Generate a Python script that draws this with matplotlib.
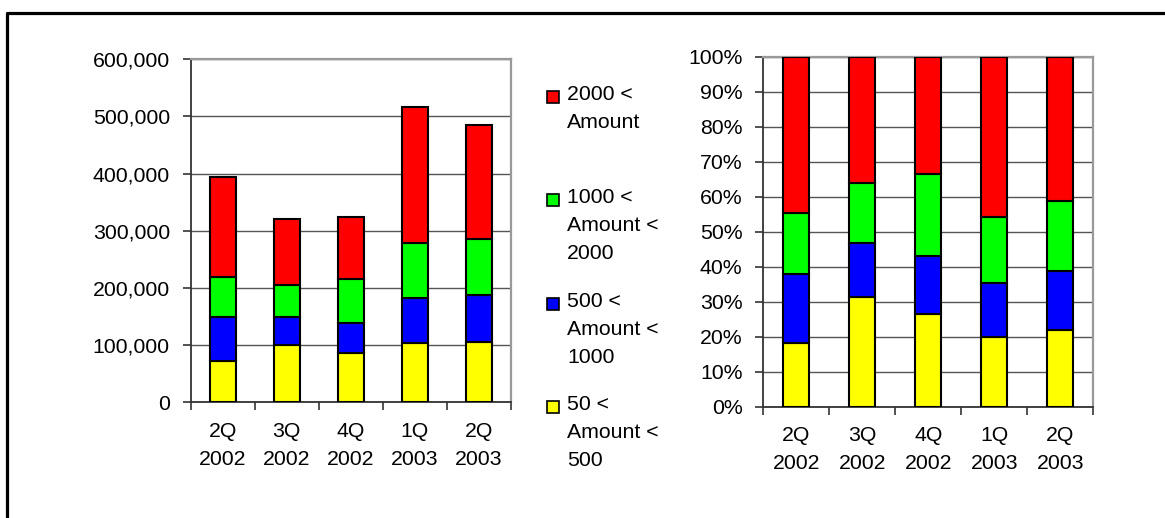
import matplotlib
matplotlib.use("Agg")
import matplotlib.pyplot as plt
import numpy as np
from matplotlib.lines import Line2D
from matplotlib.patches import Rectangle
from matplotlib.ticker import FuncFormatter, MultipleLocator, PercentFormatter

plt.rcParams["font.family"] = ["Liberation Sans", "DejaVu Sans"]

# quarterly amounts per size bracket
quarters = ["2Q\n2002", "3Q\n2002", "4Q\n2002", "1Q\n2003", "2Q\n2003"]
bracket_labels = ["50 <\nAmount <\n500", "500 <\nAmount <\n1000",
                  "1000 <\nAmount <\n2000", "2000 <\nAmount"]
amt_50_500 = [72300, 100300, 86300, 103200, 106100]
amt_500_1000 = [77600, 49600, 53100, 78700, 81700]
amt_1000_2000 = [68800, 54800, 76300, 97400, 97300]
amt_2000_up = [176100, 116000, 109100, 237300, 200000]
colors = ["#ffff00", "#0000ff", "#00ff00", "#ff0000"]

series = np.array([amt_50_500, amt_500_1000, amt_1000_2000, amt_2000_up], dtype=float)
shares = series / series.sum(axis=0)

W, H = 1165, 518
fig = plt.figure(figsize=(W / 100, H / 100), dpi=100)
fig.patch.set_facecolor("white")

FS = 15.3


def style_axes(ax):
    x = np.arange(len(quarters))
    ax.set_xlim(-0.5, len(quarters) - 0.5)
    ax.set_xticks(x)
    ax.set_xticklabels(quarters, fontsize=FS, linespacing=1.6)
    ax.set_xticks(np.arange(len(quarters) + 1) - 0.5, minor=True)
    ax.tick_params(axis="x", which="major", length=0, pad=14)
    ax.tick_params(axis="x", which="minor", length=6, width=1.2, color="#333333",
                   direction="out")
    ax.tick_params(axis="y", length=6, width=1.2, color="#333333", pad=9,
                   labelsize=FS)
    ax.yaxis.grid(True, color="#555555", linewidth=1.0)
    ax.set_axisbelow(True)
    for side in ("left", "bottom"):
        ax.spines[side].set_color("#333333")
        ax.spines[side].set_linewidth(1.3)
    for side in ("top", "right"):
        ax.spines[side].set_color("#999999")
        ax.spines[side].set_linewidth(1.6)


def draw_stack(ax, data, width):
    x = np.arange(len(quarters))
    bottom = np.zeros(len(quarters))
    for vals, c in zip(data, colors):
        ax.bar(x, vals, width, bottom=bottom, color=c, edgecolor="black",
               linewidth=1.5, zorder=3)
        bottom += vals


# absolute amounts
ax1 = fig.add_axes([190.7 / W, 1 - 402.3 / H, 320 / W, 343 / H])
draw_stack(ax1, series, 0.41)
ax1.set_ylim(0, 600000)
ax1.yaxis.set_major_locator(MultipleLocator(100000))
ax1.yaxis.set_major_formatter(FuncFormatter(lambda v, p: f"{v:,.0f}"))
style_axes(ax1)

# share of each bracket
ax2 = fig.add_axes([763.3 / W, 1 - 406.7 / H, 330 / W, 350 / H])
draw_stack(ax2, shares, 0.39)
ax2.set_ylim(0, 1)
ax2.yaxis.set_major_locator(MultipleLocator(0.1))
ax2.yaxis.set_major_formatter(PercentFormatter(1.0, decimals=0))
style_axes(ax2)

# legend, top entry is the largest bracket
legend_y = [97, 200, 304, 407]
for i, (lab, c) in enumerate(zip(bracket_labels[::-1], colors[::-1])):
    y = legend_y[i]
    fig.patches.append(Rectangle((547 / W, 1 - (y + 6) / H), 12 / W, 12 / H,
                                 transform=fig.transFigure, facecolor=c,
                                 edgecolor="black", linewidth=1.2))
    fig.text(567 / W, 1 - (y - 12) / H, lab, fontsize=FS, va="top", ha="left",
             linespacing=1.6)

# frame around the picture
fig.add_artist(Line2D([6.5 / W, 6.5 / W, 1.0], [0.0, 1 - 13.3 / H, 1 - 13.3 / H],
                      transform=fig.transFigure, color="black", linewidth=2.3))

fig.savefig("out.png", dpi=100)
